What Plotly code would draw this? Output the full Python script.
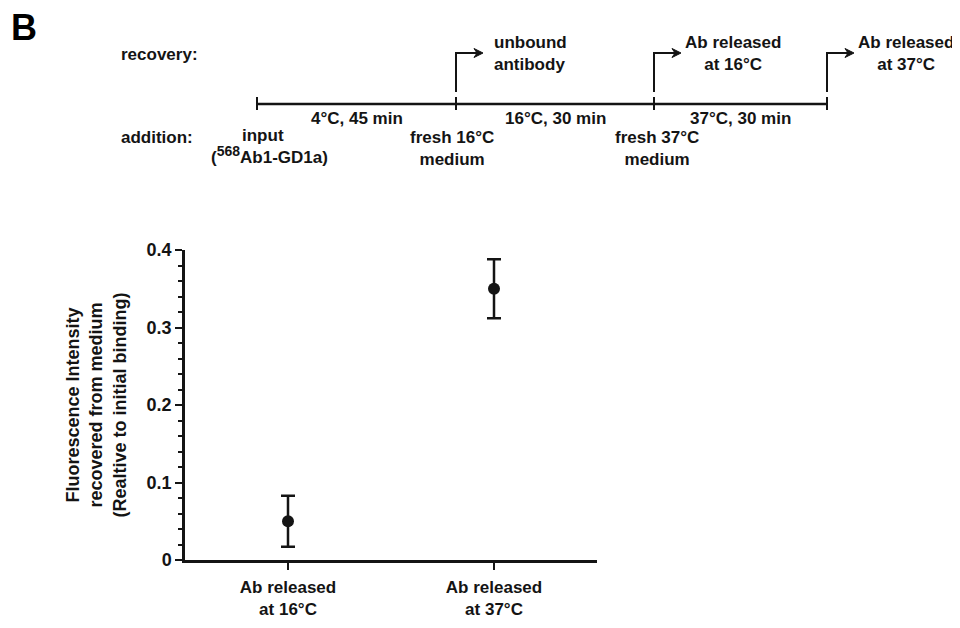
import plotly.graph_objects as go

# ---------------- data ----------------
categories = ["Ab released<br>at 16°C", "Ab released<br>at 37°C"]
means = [0.050, 0.350]
errors = [0.033, 0.038]
y_ticks = [0, 0.1, 0.2, 0.3, 0.4]
y_tick_labels = ["0", "0.1", "0.2", "0.3", "0.4"]

stage_labels = ["4°C, 45 min", "16°C, 30 min", "37°C, 30 min"]
recovery_labels = ["unbound<br>antibody", "Ab released<br>at 16°C", "Ab released<br>at 37°C"]
addition_labels = ["fresh 16°C<br>medium", "fresh 37°C<br>medium"]

# ---------------- layout helpers ----------------
OFF = 8                      # page body margin offset
W, H = 960 - OFF, 628 - OFF
L, R, T, B = 185 - OFF, 597 - OFF, 250 - OFF, 560 - OFF
INK = "#141414"
FONT = "Liberation Sans, Arial, Helvetica, sans-serif"


def px(x):
    return (x - OFF - L) / (R - L)


def py(y):
    return (B - (y - OFF)) / (B - T)


fig = go.Figure()
fig.add_trace(go.Scatter(
    x=list(range(len(categories))), y=means,
    mode="markers",
    marker=dict(size=12, color=INK, symbol="circle"),
    error_y=dict(type="data", array=errors, visible=True, color=INK, thickness=2.5, width=7),
    showlegend=False, cliponaxis=False,
))

shapes = []
annotations = []

# timeline
tl_y = 104
bounds = [257, 456, 654, 827]
shapes.append(dict(type="line", xref="paper", yref="paper", x0=px(bounds[0]), x1=px(bounds[-1]),
                   y0=py(tl_y), y1=py(tl_y), line=dict(color=INK, width=2.5)))
for b in bounds:
    shapes.append(dict(type="line", xref="paper", yref="paper", x0=px(b), x1=px(b),
                       y0=py(tl_y - 7), y1=py(tl_y + 6), line=dict(color=INK, width=2)))
for i, lab in enumerate(stage_labels):
    cx = (bounds[i] + bounds[i + 1]) / 2
    annotations.append(dict(text=lab, x=px(cx), y=py(118), xref="paper", yref="paper",
                            xanchor="center", yanchor="middle", showarrow=False))

# recovery arrows
for b in bounds[1:]:
    tip = b + 27
    path = f"M {px(b)},{py(92)} L {px(b)},{py(53)} L {px(tip - 6)},{py(53)}"
    shapes.append(dict(type="path", xref="paper", yref="paper", path=path,
                       line=dict(color=INK, width=2)))
    head = (f"M {px(tip)},{py(53)} L {px(tip - 9)},{py(48.5)} "
            f"L {px(tip - 6)},{py(53)} L {px(tip - 9)},{py(57.5)} Z")
    shapes.append(dict(type="path", xref="paper", yref="paper", path=head,
                       fillcolor=INK, line=dict(color=INK, width=1)))

rec_pos = [(492, "left"), (733, "center"), (906, "center")]
for lab, (x, anc) in zip(recovery_labels, rec_pos):
    annotations.append(dict(text=lab, x=px(x), y=py(53), xref="paper", yref="paper",
                            xanchor=anc, yanchor="middle", align=anc, showarrow=False))

add_pos = [452, 657]
for lab, x in zip(addition_labels, add_pos):
    annotations.append(dict(text=lab, x=px(x), y=py(149), xref="paper", yref="paper",
                            xanchor="center", yanchor="middle", align="center", showarrow=False))

annotations.append(dict(text="input", x=px(240), y=py(135), xref="paper", yref="paper",
                        xanchor="left", yanchor="middle", showarrow=False))
annotations.append(dict(text="(<sup><span style='font-size:14px'>568</span></sup>Ab1-GD1a)",
                        x=px(330), y=py(155), xref="paper", yref="paper",
                        xanchor="right", yanchor="middle", showarrow=False))

annotations.append(dict(text="recovery:", x=px(119), y=py(55), xref="paper", yref="paper",
                        xanchor="left", yanchor="middle", showarrow=False))
annotations.append(dict(text="addition:", x=px(119), y=py(137), xref="paper", yref="paper",
                        xanchor="left", yanchor="middle", showarrow=False))
annotations.append(dict(text="B", x=px(9), y=py(27), xref="paper", yref="paper",
                        xanchor="left", yanchor="middle", showarrow=False,
                        font=dict(size=36, color="#000", family=FONT, weight="bold")))

fig.update_layout(
    width=W, height=H,
    margin=dict(l=L, r=W - R, t=T, b=H - B, autoexpand=False),
    paper_bgcolor="white", plot_bgcolor="white",
    font=dict(family=FONT, size=17, color=INK, weight="bold"),
    shapes=shapes, annotations=annotations,
    xaxis=dict(
        range=[-0.5, 1.5], tickvals=list(range(len(categories))), ticktext=categories,
        showline=True, linecolor=INK, linewidth=2.5, ticks="outside", ticklen=7,
        tickwidth=2, tickcolor=INK, showgrid=False, zeroline=False, ticklabelstandoff=3,
        tickfont=dict(size=17, color=INK, family=FONT, weight="bold"),
    ),
    yaxis=dict(
        range=[0, 0.4], tickvals=y_ticks, ticktext=y_tick_labels,
        showline=True, linecolor=INK, linewidth=2.5, ticks="outside", ticklen=7,
        tickwidth=2, tickcolor=INK, showgrid=False, zeroline=False,
        minor=dict(dtick=0.02, ticks="outside", ticklen=4, tickwidth=2, tickcolor=INK),
        tickfont=dict(size=18, color=INK, family=FONT, weight="bold"),
        title=dict(text="Fluorescence Intensity<br>recovered from medium<br>(Realtive to initial binding)",
                   font=dict(size=18, color=INK, family=FONT, weight="bold"), standoff=16),
    ),
)

fig.write_html("out.html")
